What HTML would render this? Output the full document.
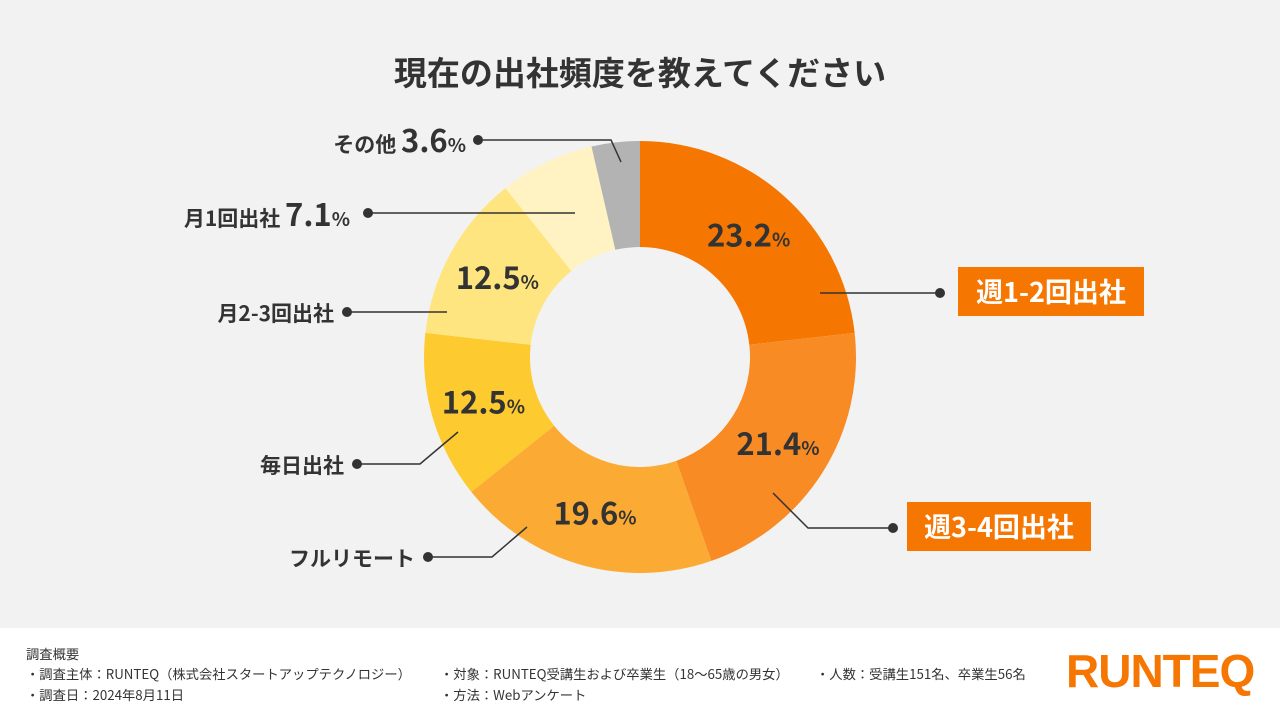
<!DOCTYPE html>
<html><head><meta charset="utf-8">
<style>
body{margin:0;width:1280px;height:720px;overflow:hidden;background:#f2f2f2;font-family:"Liberation Sans","Noto Sans CJK JP",sans-serif;}
#footer{position:absolute;left:0;top:628px;width:1280px;height:92px;background:#fff;}
.ft{position:absolute;font-family:"Noto Sans CJK JP",sans-serif;font-size:13.3px;color:#333;white-space:nowrap;}
</style></head><body>
<svg id="chart" width="1280" height="628" style="position:absolute;left:0;top:0;font-family:'Noto Sans CJK JP',sans-serif;font-weight:700">
<text x="640" y="85" text-anchor="middle" font-size="33" fill="#333">現在の出社頻度を教えてください</text>
<g id="slices"></g>
<g id="inlabels"></g>
<g stroke="#333" stroke-width="1.5" fill="none">
<polyline points="820,293 940,293"/>
<polyline points="773,493 808,528 893,528"/>
<polyline points="527,527 492,557 428,557"/>
<polyline points="458,432 420,464 357,464"/>
<polyline points="447,312 347,312"/>
<polyline points="575,213 368,213"/>
<polyline points="621,162 611,140 478,140"/>
</g>
<g fill="#333">
<circle cx="940" cy="293" r="5"/><circle cx="893" cy="528" r="5"/><circle cx="428" cy="557" r="5"/>
<circle cx="357" cy="464" r="5"/><circle cx="347" cy="312" r="5"/><circle cx="368" cy="213" r="5"/><circle cx="478" cy="140" r="5"/>
</g>
<rect x="958" y="267" width="186" height="49" fill="#f57600"/>
<text x="1051" y="302" text-anchor="middle" font-size="27" fill="#fff">週1-2回出社</text>
<rect x="907" y="502" width="184" height="49" fill="#f57600"/>
<text x="999" y="537" text-anchor="middle" font-size="27" fill="#fff">週3-4回出社</text>
<text x="415" y="566" text-anchor="end" font-size="21" fill="#333">フルリモート</text>
<text x="344" y="473" text-anchor="end" font-size="21" fill="#333">毎日出社</text>
<text x="334" y="321" text-anchor="end" font-size="21" fill="#333">月2-3回出社</text>
<text x="350" y="226" text-anchor="end" font-size="21" fill="#333">月1回出社 <tspan font-size="31">7.1</tspan><tspan font-size="19">%</tspan></text>
<text x="466" y="152" text-anchor="end" font-size="21" fill="#333">その他 <tspan font-size="31">3.6</tspan><tspan font-size="19">%</tspan></text>
</svg>
<div id="footer">
<div class="ft" style="left:26px;top:16px">調査概要</div>
<div class="ft" style="left:26px;top:36px">・調査主体：RUNTEQ（株式会社スタートアップテクノロジー）</div>
<div class="ft" style="left:26px;top:57px">・調査日：2024年8月11日</div>
<div class="ft" style="left:440px;top:36px">・対象：RUNTEQ受講生および卒業生（18〜65歳の男女）</div>
<div class="ft" style="left:440px;top:57px">・方法：Webアンケート</div>
<div class="ft" style="left:816px;top:36px">・人数：受講生151名、卒業生56名</div>
<div style="position:absolute;left:1066px;top:16px;font-family:'Liberation Sans',sans-serif;font-weight:700;font-size:46px;color:#f57600;letter-spacing:-1px;">RUNTEQ</div>
</div>
<script>
const categories=["週1-2回出社","週3-4回出社","フルリモート","毎日出社","月2-3回出社","月1回出社","その他"];
const values=[23.2,21.4,19.6,12.5,12.5,7.1,3.6];
const colors=["#f57600","#f98b25","#fbab34","#fdcb2f","#fee57f","#fff3c3","#b3b3b3"];
const showInside=[true,true,true,true,true,false,false];
const cx=640,cy=357,R=216,r=110,LR=163;
const ns="http://www.w3.org/2000/svg";
const total=values.reduce((a,b)=>a+b,0);
function pt(a,rad){return [cx+rad*Math.sin(a),cy-rad*Math.cos(a)];}
let acc=0;
const gs=document.getElementById('slices'),gl=document.getElementById('inlabels');
values.forEach((v,i)=>{
 const a0=acc/total*2*Math.PI;acc+=v;const a1=acc/total*2*Math.PI;
 const lg=(a1-a0)>Math.PI?1:0;
 const [x0,y0]=pt(a0,R),[x1,y1]=pt(a1,R),[x2,y2]=pt(a1,r),[x3,y3]=pt(a0,r);
 const p=document.createElementNS(ns,'path');
 p.setAttribute('d',`M${x0},${y0}A${R},${R} 0 ${lg} 1 ${x1},${y1}L${x2},${y2}A${r},${r} 0 ${lg} 0 ${x3},${y3}Z`);
 p.setAttribute('fill',colors[i]);
 
 
 gs.appendChild(p);
 if(showInside[i]){
  const [lx,ly]=pt((a0+a1)/2,LR);
  const t=document.createElementNS(ns,'text');
  t.setAttribute('x',lx);t.setAttribute('y',ly+11);t.setAttribute('text-anchor','middle');
  t.setAttribute('fill','#333');t.setAttribute('font-size','31');
  
  
  t.innerHTML=v.toFixed(1)+'<tspan font-size="19">%</tspan>';
  gl.appendChild(t);
 }
});
</script>
</body></html>
